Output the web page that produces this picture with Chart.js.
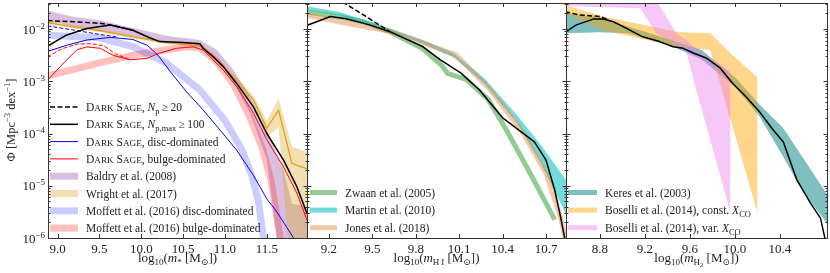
<!DOCTYPE html>
<html>
<head>
<meta charset="utf-8">
<script src="https://cdn.jsdelivr.net/npm/chart.js@4.4.1/dist/chart.umd.min.js"></script>
<style>
  body { margin: 0; background: #fff; }
  #wrap { position: relative; width: 830px; height: 273px; }
  #wrap canvas { position: absolute; left: 0; top: 0; }
</style>
</head>
<body>
<div id="wrap">
  <canvas id="stellar" width="830" height="273"></canvas>
  <canvas id="hi" width="830" height="273"></canvas>
  <canvas id="h2" width="830" height="273"></canvas>
</div>
<script>
// ---- stellar mass function (left panel) ----
const stellarTicks = [9.0, 9.5, 10.0, 10.5, 11.0, 11.5];

const smfSageAllX = [8.88, 9.2, 9.5, 9.63, 9.9];
const smfSageAllPhi = [1.45e-2, 1.38e-2, 1.29e-2, 1.20e-2, 9.5e-3];
const smfSageX = [8.88, 9.11, 9.35, 9.63, 9.90, 10.10, 10.22, 10.50, 10.70, 10.74, 10.86, 10.98, 11.14, 11.34, 11.50, 11.70, 11.86, 11.98];
const smfSagePhi = [4.7e-3, 7.7e-3, 1.02e-2, 1.20e-2, 9.5e-3, 6.8e-3, 5.75e-3, 5.5e-3, 5.25e-3, 4.27e-3, 2.95e-3, 1.91e-3, 9.1e-4, 3.24e-4, 1.0e-4, 3.1e-5, 9.5e-6, 2.95e-6];

const smfDiscAllX = [8.88, 9.2, 9.5, 9.7];
const smfDiscAllPhi = [1.15e-2, 9.5e-3, 7.9e-3, 7.1e-3];
const smfDiscX = [8.88, 9.11, 9.35, 9.63, 9.90, 10.07, 10.20, 10.34, 10.54, 10.74, 10.94, 11.14, 11.34, 11.50, 11.62, 11.74, 11.84];
const smfDiscPhi = [3.72e-3, 4.9e-3, 6.17e-3, 6.92e-3, 6.31e-3, 4.9e-3, 3.16e-3, 1.58e-3, 6.3e-4, 2.82e-4, 1.17e-4, 4.8e-5, 1.58e-5, 5.6e-6, 3.16e-6, 1.58e-6, 8.9e-7];

const smfBulgeAllX = [8.88, 9.05, 9.23, 9.40, 9.55, 9.70, 9.87];
const smfBulgeAllPhi = [2.95e-3, 4.17e-3, 5.13e-3, 5.25e-3, 4.79e-3, 3.31e-3, 2.57e-3];
const smfBulgeX = [8.88, 9.05, 9.23, 9.35, 9.51, 9.66, 9.87, 10.07, 10.22, 10.42, 10.62, 10.74, 10.98, 11.14, 11.34, 11.50, 11.70, 11.86, 11.98];
const smfBulgePhi = [1.05e-3, 2.04e-3, 3.98e-3, 4.57e-3, 4.27e-3, 3.16e-3, 2.57e-3, 2.75e-3, 3.47e-3, 4.27e-3, 4.57e-3, 3.98e-3, 1.64e-3, 7.9e-4, 2.45e-4, 7.6e-5, 2.29e-5, 7.2e-6, 2.19e-6];

const baldryX = [8.88, 9.0, 9.2, 9.5, 9.9, 10.3, 10.7, 10.9, 11.1, 11.3, 11.5, 11.6, 11.7, 11.8, 11.98];
const baldryHi = [2.29e-2, 2.0e-2, 1.7e-2, 1.48e-2, 1.05e-2, 7.4e-3, 6.2e-3, 4.0e-3, 1.66e-3, 5.0e-4, 1.17e-4, 4.8e-5, 2.0e-5, 4.5e-6, 4.0e-6];
const baldryLo = [1.3e-2, 1.32e-2, 1.1e-2, 9.1e-3, 7.1e-3, 5.4e-3, 4.6e-3, 2.8e-3, 9.8e-4, 2.45e-4, 3.2e-5, 1.8e-6, 1e-7, 1e-7, 1e-7];

const wrightX = [8.88, 9.5, 9.9, 10.3, 10.7, 10.94, 11.14, 11.34, 11.50, 11.64, 11.80, 11.98];
const wrightPhi = [1.32e-2, 9.3e-3, 7.1e-3, 5.5e-3, 4.9e-3, 2.19e-3, 1.05e-3, 4.4e-4, 1.26e-4, 2.82e-4, 2.69e-5, 2.1e-5];
const wrightHi = [1.41e-2, 1.0e-2, 7.6e-3, 5.9e-3, 5.4e-3, 2.5e-3, 1.2e-3, 5.25e-4, 1.78e-4, 4.7e-4, 5.6e-5, 4.5e-5];
const wrightLo = [1.23e-2, 8.7e-3, 6.6e-3, 5.1e-3, 4.5e-3, 1.91e-3, 8.9e-4, 3.55e-4, 8.5e-5, 1.32e-4, 1e-7, 1e-7];

const moffettDiscX = [8.88, 9.5, 9.9, 10.3, 10.7, 11.0, 11.2, 11.32, 11.4, 11.46, 11.5];
const moffettDiscPhi = [7.6e-3, 6.8e-3, 4.6e-3, 2.24e-3, 6.8e-4, 1.78e-4, 5.0e-5, 1.58e-5, 5.0e-6, 1.0e-6, 3.2e-7];
const moffettBulgeX = [8.88, 9.5, 9.9, 10.3, 10.55, 10.7, 10.9, 11.1, 11.3, 11.45, 11.55, 11.66, 11.7];
const moffettBulgePhi = [1.26e-3, 2.24e-3, 3.16e-3, 4.0e-3, 4.57e-3, 4.37e-3, 2.4e-3, 8.9e-4, 2.0e-4, 5.0e-5, 1.26e-5, 1.0e-6, 3.2e-7];

// ---- HI mass function (middle panel) ----
const hiTicks = [9.2, 9.5, 9.8, 10.1, 10.4, 10.7];

const hiSageAllX = [9.25, 9.45, 9.62];
const hiSageAllPhi = [3.9e-2, 1.78e-2, 8.9e-3];
const hiSageX = [9.04, 9.21, 9.32, 9.48, 9.62, 9.85, 9.97, 10.11, 10.24, 10.40, 10.62, 10.70, 10.76, 10.80, 10.85];
const hiSagePhi = [1.15e-2, 1.74e-2, 1.58e-2, 1.2e-2, 8.9e-3, 4.57e-3, 2.57e-3, 1.45e-3, 6.8e-4, 2.0e-4, 6.9e-5, 3.1e-5, 8.3e-6, 2.57e-6, 5e-7];

const zwaanX = [9.04, 9.28, 9.44, 9.62, 9.85, 9.98, 10.02, 10.15, 10.30, 10.43, 10.59, 10.76];
const zwaanPhi = [2.14e-2, 1.7e-2, 1.38e-2, 8.9e-3, 4.17e-3, 2.0e-3, 1.41e-3, 1.07e-3, 4.5e-4, 1.12e-4, 1.74e-5, 2.24e-6];

const martinX = [9.04, 9.28, 9.62, 9.85, 10.06, 10.27, 10.50, 10.66, 10.84];
const martinHi = [2.75e-2, 2.09e-2, 1.02e-2, 6.2e-3, 3.47e-3, 1.17e-3, 2.24e-4, 6.3e-5, 1.26e-5];
const martinLo = [2.34e-2, 1.82e-2, 8.9e-3, 5.25e-3, 2.88e-3, 9.3e-4, 1.58e-4, 2.82e-5, 2.82e-6];

const jonesX = [9.04, 9.32, 9.62, 9.85, 10.08, 10.31, 10.54, 10.70, 10.80, 10.85];
const jonesPhi = [1.86e-2, 1.29e-2, 9.1e-3, 5.4e-3, 3.16e-3, 7.1e-4, 1.05e-4, 1.74e-5, 2.51e-6, 6.3e-7];

// ---- H2 mass function (right panel) ----
const h2Ticks = [8.8, 9.2, 9.6, 10.0, 10.4];

const h2SageAllX = [8.49, 8.62, 8.80, 8.86];
const h2SageAllPhi = [2.14e-2, 1.86e-2, 1.74e-2, 1.55e-2];
const h2SageX = [8.49, 8.59, 8.74, 8.83, 8.92, 9.04, 9.18, 9.33, 9.45, 9.54, 9.63, 9.75, 9.87, 9.98, 10.10, 10.22, 10.34, 10.43, 10.55, 10.67, 10.76, 10.83];
const h2SagePhi = [8.7e-3, 1.2e-2, 1.55e-2, 1.55e-2, 1.38e-2, 1.02e-2, 7.1e-3, 5.75e-3, 4.57e-3, 4.27e-3, 3.47e-3, 2.75e-3, 1.78e-3, 9.1e-4, 5.0e-4, 2.57e-4, 1.17e-4, 6.9e-5, 1.29e-5, 4.7e-6, 2.4e-6, 5e-7];

const keresX = [8.49, 8.80, 9.05, 9.45, 9.70, 10.00, 10.22, 10.43, 10.60, 10.83];
const keresHi = [2.04e-2, 1.66e-2, 1.12e-2, 6.0e-3, 4.0e-3, 1.2e-3, 3.55e-4, 1.26e-4, 3.55e-5, 6.3e-6];
const keresLo = [8.3e-3, 8.7e-3, 8.3e-3, 4.57e-3, 2.63e-3, 7.9e-4, 2.09e-4, 3.55e-5, 7.9e-6, 1.78e-6];

const boselliConstX = [8.49, 8.83, 9.50, 9.78, 9.98, 10.20];
const boselliConstHi = [2.88e-2, 1.74e-2, 8.7e-3, 8.3e-3, 3.16e-3, 1.2e-3];
const boselliConstLo = [2.0e-2, 9.5e-3, 4.47e-3, 3.98e-3, 1.32e-4, 3.0e-6];

const boselliVarX = [8.49, 9.16, 9.30, 9.48, 9.57, 9.66, 9.78, 9.96];
const boselliVarHi = [5.0e-2, 4.5e-2, 3.55e-2, 8.3e-3, 6.0e-3, 4.0e-3, 2.82e-3, 1.51e-3];
const boselliVarLo = [2.75e-2, 2.51e-2, 8.3e-3, 5.0e-3, 3.47e-3, 6.3e-4, 7.6e-5, 3.0e-6];

// ---- styling ----
const SERIF = '"Liberation Serif", "DejaVu Serif", serif';
const INK = '#222';
const FRAME = '#333';
const YMIN = 1e-6, YMAX = 0.0315;

const C = {
  blue: '#0000ff', red: '#ff0000',
  baldry: 'rgba(128, 40, 150, 0.3)',
  wright: 'rgb(218, 165, 32)', wrightBand: 'rgba(218, 165, 32, 0.35)',
  moffettDisc: 'rgba(0, 0, 255, 0.2)', moffettBulge: 'rgba(255, 0, 0, 0.25)',
  zwaan: 'rgba(60, 160, 60, 0.55)', martin: 'rgba(0, 190, 190, 0.55)', jones: 'rgba(230, 130, 60, 0.45)',
  keres: 'rgba(0, 128, 128, 0.5)', boselliConst: 'rgba(255, 165, 0, 0.45)', boselliVar: 'rgba(238, 130, 238, 0.45)'
};

Chart.defaults.font.family = SERIF;

const pts = (xs, ys) => xs.map((x, i) => ({ x, y: ys[i] }));
function line(xs, ys, color, width, dash) {
  return { data: pts(xs, ys), borderColor: color, borderWidth: width, borderDash: dash || [],
           pointRadius: 0, fill: false, borderJoinStyle: 'round', borderCapStyle: 'butt' };
}
function band(xs, hi, lo, color) {
  return [
    { data: pts(xs, hi), borderColor: 'transparent', borderWidth: 0, pointRadius: 0, fill: false },
    { data: pts(xs, lo), borderColor: 'transparent', borderWidth: 0, pointRadius: 0, fill: '-1', backgroundColor: color }
  ];
}

// rich text pieces: text, size, vertical offset, italic
const T = (t, s, dy, it) => ({ t, s, dy: dy || 0, it });
const fontOf = p => `${p.it ? 'italic ' : ''}${p.s}px ${SERIF}`;
function drawRich(ctx, parts, x, y, align) {
  let w = 0;
  for (const p of parts) { ctx.font = fontOf(p); w += ctx.measureText(p.t).width; }
  let cx = align === 'center' ? x - w / 2 : align === 'right' ? x - w : x;
  for (const p of parts) {
    ctx.font = fontOf(p);
    ctx.fillText(p.t, cx, y + p.dy);
    cx += ctx.measureText(p.t).width;
  }
}
function smallCaps(str, big, small) {
  const out = [];
  str.split(' ').forEach((word, i) => {
    if (i) out.push(T(' ', big));
    out.push(T(word[0], big), T(word.slice(1).toUpperCase(), small));
  });
  return out;
}

const LF = 11.5, SCF = 9.2, SUBF = 8.5;
const sage = () => smallCaps('Dark Sage', LF, SCF);

function decorPlugin(cfg) {
  return {
    id: 'decor',
    afterDraw(chart) {
      const { ctx, chartArea: a } = chart;
      const xs = chart.scales.x, ys = chart.scales.y;
      ctx.save();
      ctx.textBaseline = 'alphabetic';
      ctx.fillStyle = INK;

      // legend (no frame)
      const lg = cfg.legend;
      lg.items.forEach((it, i) => {
        const cy = lg.y0 + i * lg.dy;
        ctx.beginPath();
        ctx.strokeStyle = it.color; ctx.lineWidth = it.width;
        ctx.setLineDash(it.dash || []);
        ctx.lineCap = 'butt';
        ctx.moveTo(lg.x0, cy); ctx.lineTo(lg.x1, cy);
        ctx.stroke();
        ctx.setLineDash([]);
        ctx.fillStyle = INK;
        drawRich(ctx, it.label, lg.tx, cy + 4, 'left');
      });

      // frame and inward ticks
      ctx.strokeStyle = FRAME; ctx.lineWidth = 1;
      ctx.strokeRect(a.left + 0.5, a.top + 0.5, a.right - a.left, a.bottom - a.top);
      ctx.beginPath();
      for (const t of xs.ticks) {
        const px = Math.round(xs.getPixelForValue(t.value)) + 0.5;
        ctx.moveTo(px, a.bottom); ctx.lineTo(px, a.bottom - 4);
        ctx.moveTo(px, a.top); ctx.lineTo(px, a.top + 4);
      }
      for (let e = -6; e <= -2; e++) {
        for (let k = 1; k <= 9; k++) {
          const v = k * Math.pow(10, e);
          if (v < YMIN * 0.999 || v > YMAX) continue;
          const py = Math.round(ys.getPixelForValue(v)) + 0.5;
          const len = k === 1 ? 4.5 : 2.5;
          ctx.moveTo(a.left, py); ctx.lineTo(a.left + len, py);
          ctx.moveTo(a.right + 1, py); ctx.lineTo(a.right + 1 - len, py);
        }
      }
      ctx.stroke();

      // y tick labels and title (left panel only)
      if (cfg.yLabels) {
        for (let e = -6; e <= -2; e++) {
          const py = ys.getPixelForValue(Math.pow(10, e));
          drawRich(ctx, [T('10', 13), T('\u2212' + (-e), 9, -5)], a.left - 3, py + 4.5, 'right');
        }
        ctx.save();
        ctx.translate(15, 120);
        ctx.rotate(-Math.PI / 2);
        drawRich(ctx, [T('\u03A6 [Mpc', 12.5), T('\u22123', 8.5, -5), T(' dex', 12.5), T('\u22121', 8.5, -5), T(']', 12.5)], 0, 0, 'center');
        ctx.restore();
      }

      // x title
      drawRich(ctx, cfg.xTitle, (a.left + a.right) / 2, 262, 'center');
      ctx.restore();
    }
  };
}

function panel(id, padL, padR, xmin, xmax, ticks, datasets, decor) {
  return new Chart(document.getElementById(id), {
    type: 'line',
    data: { datasets },
    options: {
      responsive: false,
      animation: false,
      events: [],
      layout: { padding: { left: padL, right: padR, top: 3, bottom: 0 } },
      plugins: { legend: { display: false }, tooltip: { enabled: false } },
      scales: {
        x: {
          type: 'linear', min: xmin, max: xmax,
          grid: { display: false, drawTicks: false },
          border: { display: false },
          ticks: { font: { family: SERIF, size: 13 }, color: INK, padding: 4, maxRotation: 0, autoSkip: false,
                   callback: v => Number(v).toFixed(1) },
          afterBuildTicks: s => { s.ticks = ticks.map(v => ({ value: v })); },
          afterFit: s => { s.height = 35; }
        },
        y: { type: 'logarithmic', min: YMIN, max: YMAX, display: false }
      }
    },
    plugins: [decorPlugin(decor)]
  });
}

// left: stellar mass function
panel('stellar', 48, 523, 8.886, 11.98, stellarTicks, [
  line(smfSageAllX, smfSageAllPhi, '#000', 1.5, [5, 2.5]),
  line(smfSageX, smfSagePhi, '#000', 1.5),
  line(smfDiscAllX, smfDiscAllPhi, C.blue, 1, [4, 2]),
  line(smfDiscX, smfDiscPhi, C.blue, 1),
  line(smfBulgeAllX, smfBulgeAllPhi, C.red, 1, [4, 2]),
  line(smfBulgeX, smfBulgePhi, C.red, 1),
  line(wrightX, wrightPhi, C.wright, 1.3),
  line(moffettDiscX, moffettDiscPhi, C.moffettDisc, 7),
  line(moffettBulgeX, moffettBulgePhi, C.moffettBulge, 7),
  ...band(wrightX, wrightHi, wrightLo, C.wrightBand),
  ...band(baldryX, baldryHi, baldryLo, C.baldry)
], {
  yLabels: true,
  xTitle: [T('log', 13), T('10', 9, 3), T('(', 13), T('m', 13, 0, true), T('*', 9, 3), T(' [M', 13), T('\u2299', 9, 3), T('])', 13)],
  legend: {
    x0: 50, x1: 78, tx: 86, y0: 107, dy: 17.3,
    items: [
      { color: '#000', width: 1.5, dash: [5, 2.5], label: [...sage(), T(', ', LF), T('N', LF, 0, true), T('p', SUBF, 3), T('\u2009\u2265\u200920', LF)] },
      { color: '#000', width: 1.5, label: [...sage(), T(', ', LF), T('N', LF, 0, true), T('p,max', SUBF, 3), T('\u2009\u2265\u2009100', LF)] },
      { color: C.blue, width: 1, label: [...sage(), T(', disc-dominated', LF)] },
      { color: C.red, width: 1, label: [...sage(), T(', bulge-dominated', LF)] },
      { color: C.baldry, width: 7, label: [T('Baldry et al. (2008)', LF)] },
      { color: C.wrightBand, width: 7, label: [T('Wright et al. (2017)', LF)] },
      { color: C.moffettDisc, width: 7, label: [T('Moffett et al. (2016) disc-dominated', LF)] },
      { color: C.moffettBulge, width: 7, label: [T('Moffett et al. (2016) bulge-dominated', LF)] }
    ]
  }
});

// middle: HI mass function
panel('hi', 307, 264, 9.048, 10.838, hiTicks, [
  line(hiSageAllX, hiSageAllPhi, '#000', 1.5, [5, 2.5]),
  line(hiSageX, hiSagePhi, '#000', 1.5),
  line(jonesX, jonesPhi, C.jones, 5),
  ...band(martinX, martinHi, martinLo, C.martin),
  line(zwaanX, zwaanPhi, C.zwaan, 5)
], {
  xTitle: [T('log', 13), T('10', 9, 3), T('(', 13), T('m', 13, 0, true), T('H\u2009I', 9, 3), T(' [M', 13), T('\u2299', 9, 3), T('])', 13)],
  legend: {
    x0: 310, x1: 337, tx: 345, y0: 192.5, dy: 17.6,
    items: [
      { color: C.zwaan, width: 5, label: [T('Zwaan et al. (2005)', LF)] },
      { color: C.martin, width: 5, label: [T('Martin et al. (2010)', LF)] },
      { color: C.jones, width: 5, label: [T('Jones et al. (2018)', LF)] }
    ]
  }
});

// right: H2 mass function
panel('h2', 566, 3, 8.498, 10.818, h2Ticks, [
  line(h2SageAllX, h2SageAllPhi, '#000', 1.5, [5, 2.5]),
  line(h2SageX, h2SagePhi, '#000', 1.5),
  ...band(boselliVarX, boselliVarHi, boselliVarLo, C.boselliVar),
  ...band(boselliConstX, boselliConstHi, boselliConstLo, C.boselliConst),
  ...band(keresX, keresHi, keresLo, C.keres)
], {
  xTitle: [T('log', 13), T('10', 9, 3), T('(', 13), T('m', 13, 0, true), T('H', 9, 3), T('2', 6.5, 5), T(' [M', 13), T('\u2299', 9, 3), T('])', 13)],
  legend: {
    x0: 568, x1: 597, tx: 605, y0: 192.5, dy: 17.6,
    items: [
      { color: C.keres, width: 5, label: [T('Keres et al. (2003)', LF)] },
      { color: C.boselliConst, width: 5, label: [T('Boselli et al. (2014), const. ', LF), T('X', LF, 0, true), T('CO', SUBF, 3)] },
      { color: C.boselliVar, width: 5, label: [T('Boselli et al. (2014), var. ', LF), T('X', LF, 0, true), T('CO', SUBF, 3)] }
    ]
  }
});
</script>
</body>
</html>
